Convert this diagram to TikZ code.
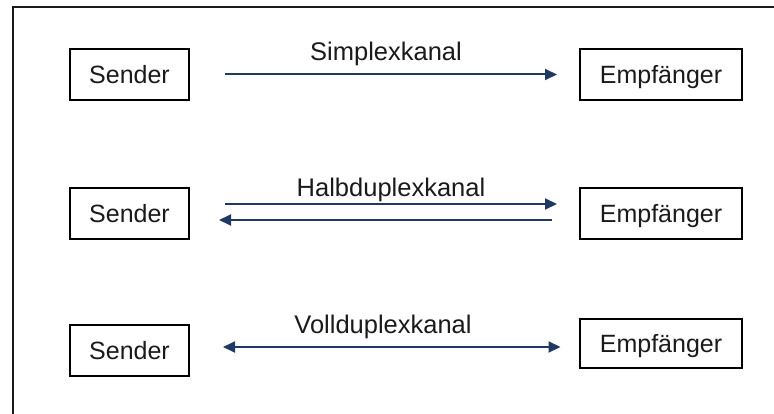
\documentclass[tikz,border=0pt]{standalone}
\usepackage{fontspec}
\setmainfont{Liberation Sans}
\usetikzlibrary{arrows.meta}
\definecolor{chan}{HTML}{203864}
\definecolor{ink}{HTML}{1A1A1A}
\begin{document}
\begin{tikzpicture}[x=1pt,y=-1pt,
  box/.style={draw=black, line width=2pt, inner sep=0pt, text height=18pt,
    text depth=0pt, font=\fontsize{25}{30}\selectfont, text=ink},
  sendbox/.style={box, minimum width=119pt, minimum height=51pt},
  recvbox/.style={box, minimum width=162pt, minimum height=51pt},
  chanlabel/.style={anchor=base, inner sep=0pt,
    font=\fontsize{25.5}{30}\selectfont, text=ink},
  tipA/.style={Triangle[length=12pt,width=11pt]},
  chanline/.style={draw=chan, line width=2pt}
]
\useasboundingbox (0,0) rectangle (774,414);
% outer frame (only left and top edges inside the page)
\draw[line width=2pt, draw=ink] (12.5,430) -- (12.5,7) -- (790,7);

% row 1: simplex
\node[sendbox] (s1) at (129.5,74.5) {Sender};
\node[recvbox] (e1) at (661,74.5) {Empfänger};
\node[chanlabel] (l1) at (386,61) {Simplexkanal};
\draw[chanline, -{Triangle[length=12pt,width=11pt]}, shorten <=35pt, shorten >=22pt]
  (s1.east) -- (e1.west);

% row 2: half duplex
\node[sendbox] (s2) at (129.5,214) {Sender};
\node[recvbox] (e2) at (661,214) {Empfänger};
\node[chanlabel] (l2) at (391,197) {Halbduplexkanal};
\draw[chanline, -{Triangle[length=12pt,width=11pt]}, shorten <=35pt, shorten >=22pt]
  ([yshift=10pt]s2.east) -- ([yshift=10pt]e2.west);
\draw[chanline, -{Triangle[length=12pt,width=11pt]}, shorten <=27pt, shorten >=29pt]
  ([yshift=-6pt]e2.west) -- ([yshift=-6pt]s2.east);

% row 3: full duplex
\node[sendbox] (s3) at (129.5,350) {Sender};
\node[recvbox, minimum height=49pt] (e3) at (661,343) {Empfänger};
\node[chanlabel] (l3) at (383,333) {Vollduplexkanal};
\draw[chanline, {Triangle[length=12pt,width=11pt]}-{Triangle[length=12pt,width=11pt]},
  shorten <=33pt, shorten >=18.5pt]
  ([yshift=3pt]s3.east) -- ([yshift=-4pt]e3.west);
\end{tikzpicture}
\end{document}
